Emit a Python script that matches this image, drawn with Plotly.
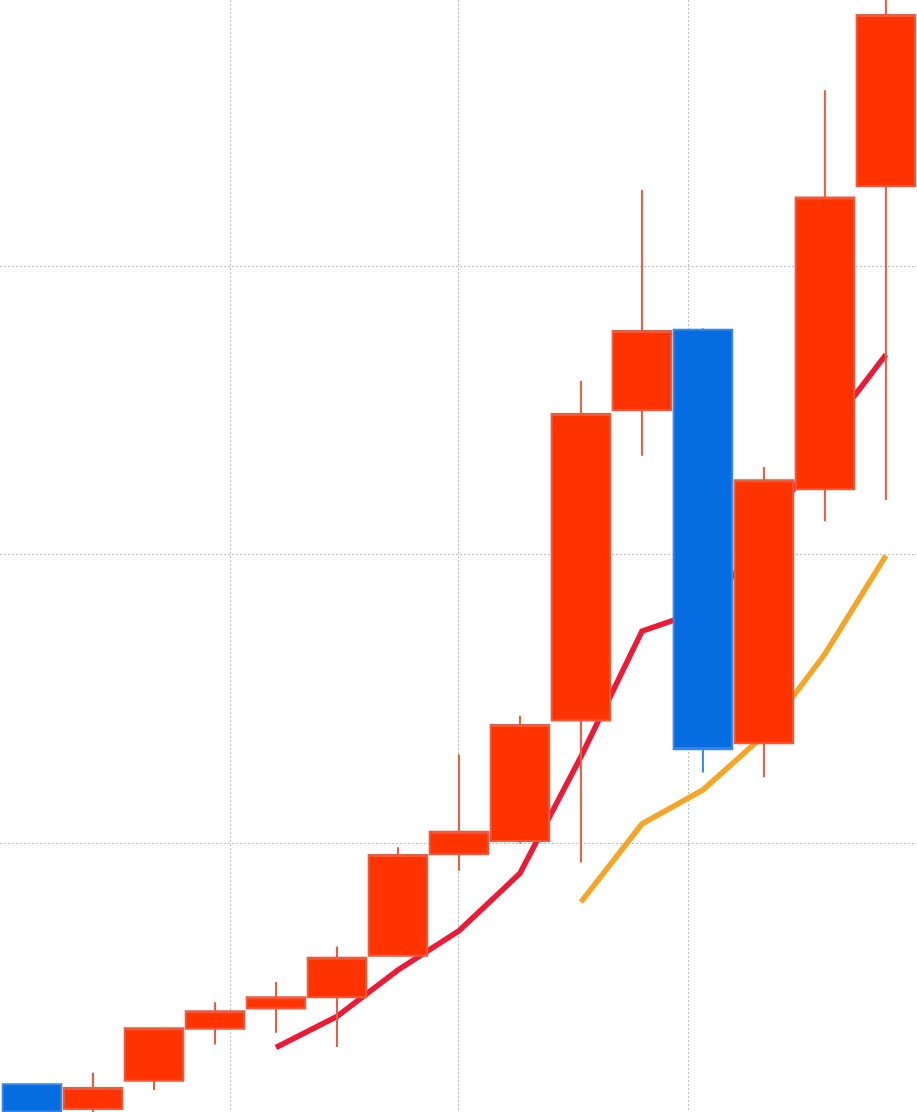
import plotly.graph_objects as go

# Data
idx = list(range(15))
opens = [1.65, 0.79, 1.77, 3.57, 4.27, 4.66, 6.10, 9.62, 10.08, 14.26, 25.01, 27.80, 13.47, 22.27, 32.77]
highs = [1.67, 2.05, 3.62, 4.49, 5.19, 6.42, 9.86, 13.08, 14.42, 26.02, 32.64, 27.85, 23.04, 36.10, 39.40]
lows = [0.63, 0.55, 1.45, 3.03, 3.43, 2.94, 6.08, 9.05, 10.00, 9.33, 23.43, 12.45, 12.29, 21.16, 21.90]
closes = [0.67, 1.52, 3.59, 4.18, 4.66, 6.03, 9.59, 10.40, 14.10, 24.88, 27.76, 13.26, 22.58, 32.38, 38.71]

ma5_x = [4, 5, 6, 7, 8, 9, 10, 11, 12, 13, 14]
ma5 = [2.92, 4.00, 5.61, 6.97, 8.96, 13.00, 17.35, 18.08, 20.52, 24.17, 26.94]
ma10_x = [9, 10, 11, 12, 13, 14]
ma10 = [7.96, 10.67, 11.85, 13.74, 16.56, 19.97]

x_grid = [3.25, 7.0, 10.77]
y_grid = [10, 20, 30]

x_range = [-0.525, 14.51]
y_range = [0.686, 39.23]

fig = go.Figure()
fig.add_trace(go.Scatter(x=ma5_x, y=ma5, mode="lines",
                         line=dict(color="#EE1A35", width=5.5), hoverinfo="skip"))
fig.add_trace(go.Scatter(x=ma10_x, y=ma10, mode="lines",
                         line=dict(color="#F6A526", width=5.5), hoverinfo="skip"))
fig.add_trace(go.Candlestick(
    x=idx, open=opens, high=highs, low=lows, close=closes,
    xaxis="x2", yaxis="y2",
    increasing=dict(fillcolor="#FF3300", line=dict(color="#EE5A3C", width=2)),
    decreasing=dict(fillcolor="#066CE2", line=dict(color="#3A86E2", width=2)),
    whiskerwidth=0,
))

grid = dict(showticklabels=False, showgrid=True, gridcolor="#bdbdbd",
            griddash="2px,2px", gridwidth=1, zeroline=False, showline=False,
            ticks="")
fig.update_layout(
    width=917, height=1112,
    margin=dict(l=0, r=0, t=0, b=0),
    paper_bgcolor="white", plot_bgcolor="white",
    showlegend=False,
    boxgap=0.04, boxgroupgap=0,
    xaxis=dict(range=x_range, tickvals=x_grid, **grid),
    yaxis=dict(range=y_range, tickvals=y_grid, **grid),
    xaxis2=dict(range=x_range, overlaying="x", showgrid=False, showticklabels=False,
                zeroline=False, showline=False, rangeslider=dict(visible=False)),
    yaxis2=dict(range=y_range, overlaying="y", showgrid=False, showticklabels=False,
                zeroline=False, showline=False),
)

fig.write_html("out.html", config={"displayModeBar": False},
               post_script="document.body.style.margin='0';")
